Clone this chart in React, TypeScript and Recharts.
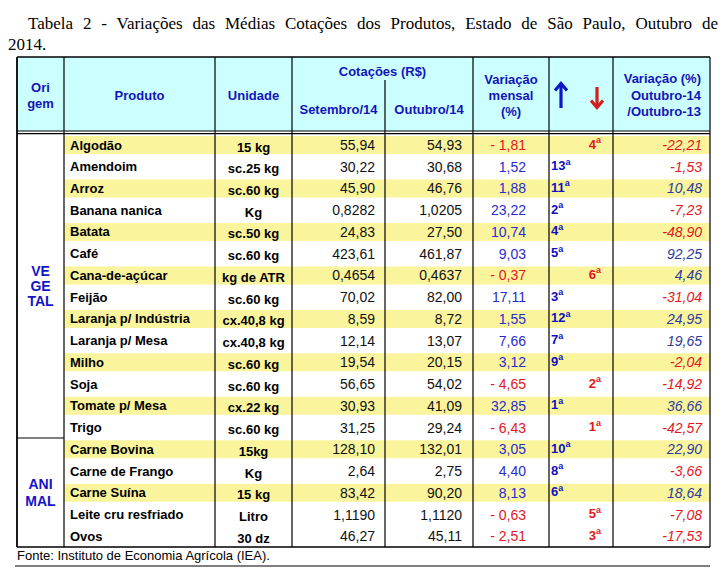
import { BarChart, Bar, XAxis, YAxis, Cell, LabelList } from "recharts"

const produtos = [
  "Algodão", "Amendoim", "Arroz", "Banana nanica", "Batata", "Café", "Cana-de-açúcar",
  "Feijão", "Laranja p/ Indústria", "Laranja p/ Mesa", "Milho", "Soja", "Tomate p/ Mesa",
  "Trigo", "Carne Bovina", "Carne de Frango", "Carne Suína", "Leite cru resfriado", "Ovos",
]
const unidades = [
  "15 kg", "sc.25 kg", "sc.60 kg", "Kg", "sc.50 kg", "sc.60 kg", "kg de ATR", "sc.60 kg",
  "cx.40,8 kg", "cx.40,8 kg", "sc.60 kg", "sc.60 kg", "cx.22 kg", "sc.60 kg", "15kg", "Kg",
  "15 kg", "Litro", "30 dz",
]
const setembro = [
  55.94, 30.22, 45.9, 0.8282, 24.83, 423.61, 0.4654, 70.02, 8.59, 12.14, 19.54, 56.65, 30.93,
  31.25, 128.1, 2.64, 83.42, 1.119, 46.27,
]
const outubro = [
  54.93, 30.68, 46.76, 1.0205, 27.5, 461.87, 0.4637, 82.0, 8.72, 13.07, 20.15, 54.02, 41.09,
  29.24, 132.01, 2.75, 90.2, 1.112, 45.11,
]
const casasDecimais = [2, 2, 2, 4, 2, 2, 4, 2, 2, 2, 2, 2, 2, 2, 2, 2, 2, 4, 2]
const variacaoMensal = [
  -1.81, 1.52, 1.88, 23.22, 10.74, 9.03, -0.37, 17.11, 1.55, 7.66, 3.12, -4.65, 32.85, -6.43,
  3.05, 4.4, 8.13, -0.63, -2.51,
]
const ranking = [4, 13, 11, 2, 4, 5, 6, 3, 12, 7, 9, 2, 1, 1, 10, 8, 6, 5, 3]
const variacaoAnual = [
  -22.21, -1.53, 10.48, -7.23, -48.9, 92.25, 4.46, -31.04, 24.95, 19.65, -2.04, -14.92, 36.66,
  -42.57, 22.9, -3.66, 18.64, -7.08, -17.53,
]
const destaque = [1, 0, 1, 0, 1, 0, 1, 0, 1, 0, 1, 0, 1, 0, 1, 0, 1, 0, 0]

const data = produtos.map((produto, i) => ({ produto, row: 1 }))

const SANS = "'Liberation Sans', Arial, sans-serif"
const RED = "#e3161c"
const BLUE = "#2b2bd0"
const NAVY = "#2e3a9c"
const HEAD = "#1414b8"
const COLS = [17, 64, 215, 292, 385, 473, 549, 613, 710]
const TOP = 57
const HEAD_BOTTOM = 131
const BOTTOM = 547

const fmt = (v: number, d = 2) => v.toFixed(d).replace(".", ",")
const fmtMensal = (v: number) => (v < 0 ? "- " + fmt(-v) : fmt(v))

function RowCells(props: any) {
  const { y, height, value } = props
  const i = produtos.indexOf(value)
  if (i < 0) return null
  const cy = Number(y) + Number(height) / 2
  const d = casasDecimais[i]
  const up = variacaoMensal[i] >= 0
  return (
    <g fontFamily={SANS} dominantBaseline="central">
      <text x={70} y={cy} fontSize={13} fontWeight="bold" fill="#000">{produtos[i]}</text>
      <text x={253.5} y={cy + 2} fontSize={13} fontWeight="bold" fill="#000" textAnchor="middle">{unidades[i]}</text>
      <text x={375} y={cy} fontSize={14} fill="#111" textAnchor="end">{fmt(setembro[i], d)}</text>
      <text x={462} y={cy} fontSize={14} fill="#111" textAnchor="end">{fmt(outubro[i], d)}</text>
      <text x={526} y={cy} fontSize={14} fill={up ? BLUE : RED} textAnchor="end">{fmtMensal(variacaoMensal[i])}</text>
      <text x={up ? 551 : 601} y={cy - 1} fontSize={13} fontWeight="bold" fill={up ? "#1010c0" : RED} textAnchor={up ? "start" : "end"}>
        {ranking[i]}
        <tspan fontSize={9} dy={-4}>a</tspan>
      </text>
      <text x={702} y={cy} fontSize={14} fontStyle="italic" fill={variacaoAnual[i] < 0 ? RED : NAVY} textAnchor="end">{fmt(variacaoAnual[i])}</text>
    </g>
  )
}

function TableFrame() {
  const mid = (a: number, b: number) => (COLS[a] + COLS[b]) / 2
  const head = (x: number, y: number, t: string, anchor = "middle") => (
    <text key={t + y + x} x={x} y={y} textAnchor={anchor as any}>{t}</text>
  )
  return (
    <svg width={726} height={577} style={{ position: "absolute", left: 0, top: 0, pointerEvents: "none" }}>
      <g fontFamily={SANS} fontSize={13} fontWeight="bold" fill={HEAD} dominantBaseline="central">
        {head(mid(0, 1), 87, "Ori")}
        {head(mid(0, 1), 103, "gem")}
        {head(mid(1, 2), 95, "Produto")}
        {head(mid(2, 3), 95, "Unidade")}
        {head(mid(3, 5), 71, "Cotações (R$)")}
        {head(mid(3, 4), 109, "Setembro/14")}
        {head(mid(4, 5), 109, "Outubro/14")}
        {head(mid(5, 6), 79, "Variação")}
        {head(mid(5, 6), 95, "mensal")}
        {head(mid(5, 6), 111, "(%)")}
        {head(701, 78, "Variação (%)", "end")}
        {head(701, 95, "Outubro-14", "end")}
        {head(701, 111, "/Outubro-13", "end")}
      </g>
      <g fontFamily={SANS} fontSize={14} fontWeight="bold" fill="#1414c8" textAnchor="middle" dominantBaseline="central">
        <text x={mid(0, 1)} y={271}>VE</text>
        <text x={mid(0, 1)} y={286}>GE</text>
        <text x={mid(0, 1)} y={301}>TAL</text>
        <text x={mid(0, 1)} y={484}>ANI</text>
        <text x={mid(0, 1)} y={501}>MAL</text>
      </g>
      <g fill="none" strokeWidth={3.2} strokeLinecap="butt">
        <line x1={561} y1={108} x2={561} y2={84} stroke="#0a18c8" />
        <polyline points="555,90.5 561,83.5 567,90.5" stroke="#0a18c8" />
        <line x1={597} y1={87} x2={597} y2={107} stroke="#d21e1e" />
        <polyline points="591,100.5 597,107.5 603,100.5" stroke="#d21e1e" />
      </g>
      <g stroke="#000" strokeWidth={1.2}>
        <line x1={COLS[0]} y1={TOP} x2={COLS[8]} y2={TOP} strokeWidth={1.6} />
        <line x1={COLS[0]} y1={HEAD_BOTTOM} x2={COLS[8]} y2={HEAD_BOTTOM} />
        <line x1={COLS[0]} y1={HEAD_BOTTOM + 2.6} x2={COLS[8]} y2={HEAD_BOTTOM + 2.6} />
        <line x1={COLS[0]} y1={BOTTOM} x2={COLS[8]} y2={BOTTOM} strokeWidth={1.4} />
        <line x1={COLS[0]} y1={438} x2={COLS[1]} y2={438} />
        {COLS.map((x, k) => (
          <line key={k} x1={x} y1={k === 4 ? 80 : TOP} x2={x} y2={BOTTOM} strokeWidth={k === 0 ? 1.8 : 1.2} />
        ))}
        <line x1={15} y1={566} x2={710} y2={566} />
      </g>
      <text x={17} y={555} fontFamily={SANS} fontSize={13} fill="#000" dominantBaseline="central">
        Fonte: Instituto de Economia Agrícola (IEA).
      </text>
    </svg>
  )
}

export default function App() {
  const serif = "'Liberation Serif', 'Times New Roman', serif"
  return (
    <div style={{ position: "absolute", left: 0, top: 0, width: 726, height: 577, background: "#fff", overflow: "hidden" }}>
      <svg width={726} height={577} style={{ position: "absolute", left: 0, top: 0 }}>
        <rect x={COLS[0]} y={TOP} width={COLS[8] - COLS[0]} height={HEAD_BOTTOM - TOP} fill="#ccffff" />
      </svg>
      <div
        style={{
          position: "absolute", left: 28, top: 13, width: 690, fontFamily: serif, fontSize: 17,
          lineHeight: "21px", textAlign: "justify", textAlignLast: "justify", whiteSpace: "nowrap", color: "#000",
        }}
      >
        Tabela 2 - Variações das Médias Cotações dos Produtos, Estado de São Paulo, Outubro de
      </div>
      <div style={{ position: "absolute", left: 8, top: 34, fontFamily: serif, fontSize: 17, lineHeight: "21px", color: "#000" }}>
        2014.
      </div>
      <div style={{ position: "absolute", left: 0, top: 0 }}>
        <BarChart width={726} height={577} data={data} layout="vertical" margin={{ top: 134, right: 16, bottom: 30, left: 64 }}>
          <XAxis type="number" domain={[0, 1]} hide />
          <YAxis type="category" dataKey="produto" hide />
          <Bar dataKey="row" barSize={18} isAnimationActive={false}>
            {data.map((d, i) => (
              <Cell key={i} fill={destaque[i] ? "#faf59c" : "transparent"} />
            ))}
            <LabelList dataKey="produto" content={(p: any) => <RowCells {...p} />} />
          </Bar>
        </BarChart>
      </div>
      <TableFrame />
    </div>
  )
}
